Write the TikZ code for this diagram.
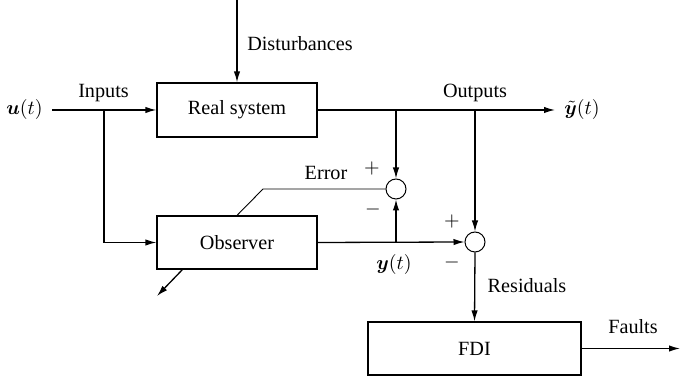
\documentclass[tikz,border=0pt]{standalone}
\usepackage{fontspec}
\setmainfont{Liberation Serif}
\usepackage{bm}
\usetikzlibrary{arrows.meta}
\begin{document}
\begin{tikzpicture}[x=0.5pt,y=-0.5pt,
  font=\fontsize{10.1}{12}\selectfont,
  blk/.style={draw, line width=0.6pt, inner sep=0pt},
  sumc/.style={draw, circle, line width=0.5pt, minimum size=10pt, inner sep=0pt},
  conn/.style={line width=0.65pt, -{Latex[length=5.5pt,width=3.2pt]}},
  thin/.style={line width=0.45pt},
  lbl/.style={inner sep=0pt}]
\useasboundingbox (0,0) rectangle (680,378);
% blocks
\node[blk, minimum width=80pt, minimum height=27pt] (rs) at (237,110) {Real system};
\node[blk, minimum width=80pt, minimum height=26.5pt] (obs) at (237,242.5) {Observer};
\node[blk, minimum width=106.5pt, minimum height=26.5pt] (fdi) at (474.5,348.5) {FDI};
\node[sumc] (c1) at (396,189) {};
\node[sumc] (c2) at (475,242) {};
% coordinates
\coordinate (dtop) at (237,0);
\coordinate (uin) at (52,110);
\coordinate (bin) at (104,110);
\coordinate (bin2) at (104,242.5);
\coordinate (yout) at (555,110);
\coordinate (b1) at (396,110);
\coordinate (b2) at (475,110);
\coordinate (yb) at (396,242.5);
\coordinate (ebend) at (263,189);
\coordinate (ftip) at (680,348.5);
\coordinate (oa) at (183,269);
\coordinate (ob) at (157,296);
% connectors
\draw[conn] (dtop) -- (rs.north);
\draw[conn] (uin) -- (rs.west);
\draw[conn] (bin) -- (bin2) -- (obs.west);
\draw[conn] (rs.east) -- (yout);
\draw[conn] (b1) -- (c1.north);
\draw[conn] (b2) -- (c2.north);
\draw[conn] (obs.east) -- (c2.west);
\draw[conn] (yb) -- (c1.south);
\draw[conn] (c2.south) -- (fdi.north);
\draw[conn] (fdi.east) -- (ftip);
\draw[thin] (obs.north) -- (ebend) -- (c1.west);
\draw[conn] (oa) -- (ob);
% labels
\node[lbl] (lu) at (24.5,110) {$\bm{u}(t)$};
\node[lbl] (lin) at (103.5,93) {Inputs};
\node[lbl] (ldist) at (300,44) {Disturbances};
\node[lbl] (lout) at (475,93) {Outputs};
\node[lbl, anchor=west] (ly) at (564,110) {$\tilde{\bm{y}}(t)$};
\node[lbl] (lerr) at (326,173) {Error};
\node[lbl] (lp1) at (372,169) {$+$};
\node[lbl] (lm1) at (373,210) {$-$};
\node[lbl] (lp2) at (452,222) {$+$};
\node[lbl] (lm2) at (452,263) {$-$};
\node[lbl] (lyt) at (394,265) {$\bm{y}(t)$};
\node[lbl] (lres) at (527,286) {Residuals};
\node[lbl] (lf) at (633,327) {Faults};
\end{tikzpicture}
\end{document}
